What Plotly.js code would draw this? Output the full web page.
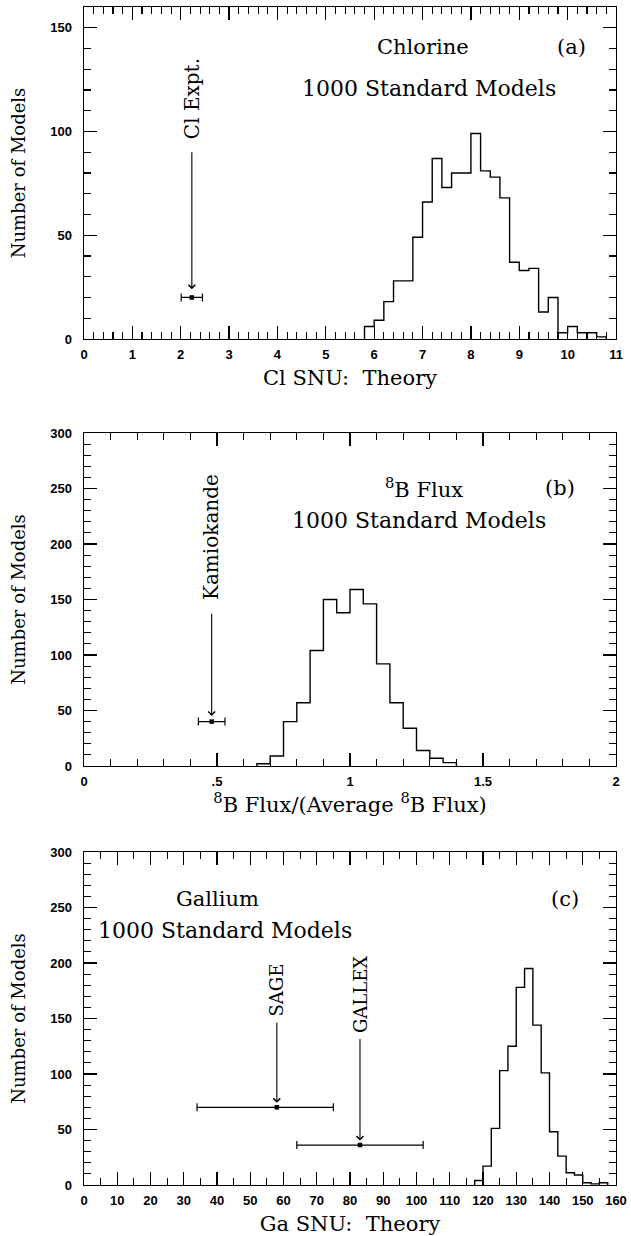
<!DOCTYPE html>
<html><head><meta charset="utf-8">
<script src="https://cdn.plot.ly/plotly-3.0.1.min.js"></script>
<style>
html,body{margin:0;padding:0;background:#fff;}
#chart{width:631px;height:1236px;}
</style></head><body><div id="chart"></div>
<script>
// ---- Panel (a): Chlorine ----
const clBinLeft = [5.8,6.0,6.2,6.4,6.6,6.8,7.0,7.2,7.4,7.6,7.8,8.0,8.2,8.4,8.6,8.8,9.0,9.2,9.4,9.6,9.8,10.0,10.2,10.4,10.6];
const clCounts  = [6,9,18,28,28,49,66,87,73,80,80,99,81,78,68,37,33,34,13,20,3,6,3,3,1];
const clExptX = [2.23], clExptY = [20], clExptErr = [0.22];
const clTicks = [0,1,2,3,4,5,6,7,8,9,10,11];

// ---- Panel (b): 8B flux ----
const bBinLeft = [0.65,0.70,0.75,0.80,0.85,0.90,0.95,1.00,1.05,1.10,1.15,1.20,1.25,1.30,1.35];
const bCounts  = [2,9,40,57,104,150,138,159,146,92,57,34,14,7,3];
const kamX = [0.48], kamY = [40], kamErr = [0.05];
const bTickVals = [0,0.5,1,1.5,2];
const bTickText = ['0','.5','1','1.5','2'];

// ---- Panel (c): Gallium ----
const gaBinLeft = [117.5,120,122.5,125,127.5,130,132.5,135,137.5,140,142.5,145,147.5,150,152.5,155];
const gaCounts  = [4,17,51,103,125,178,195,144,101,48,26,11,9,2,1,2];
const sageX = [58], sageY = [70], sagePlus = [17], sageMinus = [24];
const gallexX = [83], gallexY = [36], gallexErr = [19];

function stepLine(left, counts){
  const w = left[1]-left[0];
  const xs = [left[0]], ys = [0];
  for(let i=0;i<left.length;i++){ xs.push(left[i]); ys.push(counts[i]); }
  xs.push(left[left.length-1]+w); ys.push(0);
  return {xs, ys};
}

const K = '#000';
const serif = 'DejaVu Serif, Liberation Serif, serif';
const tickFont = {family:'Liberation Sans, Arial, sans-serif', size:13, weight:'bold', color:K};

const ha = stepLine(clBinLeft, clCounts);
const hb = stepLine(bBinLeft, bCounts);
const hc = stepLine(gaBinLeft, gaCounts);

const lineStyle = {shape:'hv', color:K, width:1.4};
const ebar = {type:'data', color:K, thickness:1.2, width:4};
const mk = {size:4.5, color:K, symbol:'square'};
const traces = [
  {x:ha.xs, y:ha.ys, mode:'lines', line:lineStyle, xaxis:'x', yaxis:'y', hoverinfo:'skip'},
  {x:clExptX, y:clExptY, mode:'markers', marker:mk, xaxis:'x', yaxis:'y',
   error_x:Object.assign({array:clExptErr}, ebar)},
  {x:hb.xs, y:hb.ys, mode:'lines', line:lineStyle, xaxis:'x2', yaxis:'y2', hoverinfo:'skip'},
  {x:kamX, y:kamY, mode:'markers', marker:mk, xaxis:'x2', yaxis:'y2',
   error_x:Object.assign({array:kamErr}, ebar)},
  {x:hc.xs, y:hc.ys, mode:'lines', line:lineStyle, xaxis:'x3', yaxis:'y3', hoverinfo:'skip'},
  {x:sageX, y:sageY, mode:'markers', marker:mk, xaxis:'x3', yaxis:'y3',
   error_x:Object.assign({symmetric:false, array:sagePlus, arrayminus:sageMinus}, ebar)},
  {x:gallexX, y:gallexY, mode:'markers', marker:mk, xaxis:'x3', yaxis:'y3',
   error_x:Object.assign({array:gallexErr}, ebar)}
];

const common = {showline:true, linecolor:K, linewidth:1.4, mirror:'ticks', ticks:'inside',
  tickcolor:K, showgrid:false, zeroline:false};

function xax(extra, anchor, title, minorStep){
  return Object.assign({}, common, {
    anchor:anchor, domain:[0,1], ticklen:13, tickwidth:1.2,
    tickfont:tickFont, ticklabelstandoff:3,
    minor:{dtick:minorStep, tick0:0, ticks:'inside', ticklen:7, tickwidth:1.1, tickcolor:K, showgrid:false},
    title:{text:title, font:{family:serif, size:21, color:K}, standoff:9}
  }, extra);
}
function yax(extra, anchor, domain){
  return Object.assign({}, common, {
    anchor:anchor, domain:domain, ticklen:13, tickwidth:1.2,
    tickfont:tickFont, ticklabelstandoff:8,
    minor:{dtick:10, tick0:0, ticks:'inside', ticklen:7, tickwidth:1.1, tickcolor:K, showgrid:false},
    title:{text:'Number of Models', font:{family:serif, size:18, color:K}, standoff:20}
  }, extra);
}

function pointer(xr, yr, x, yTip, yText, text, size, pad){
  return {xref:xr, yref:yr, axref:xr, ayref:yr, x:x, y:yTip, ax:x, ay:yText, text:text,
          textangle:-90, font:{family:serif, size:size, color:K}, borderpad:pad,
          showarrow:true, arrowhead:4, arrowsize:1.2, arrowwidth:1.1, arrowcolor:K, standoff:0};
}
function label(xr, yr, x, y, text, size){
  return {xref:xr, yref:yr, x:x, y:y, text:text, showarrow:false,
          font:{family:serif, size:size||21, color:K}, xanchor:'center', yanchor:'middle'};
}

const layout = {
  width:631, height:1236, paper_bgcolor:'#fff', plot_bgcolor:'#fff', showlegend:false,
  margin:{l:84, r:15, t:7, b:51},
  xaxis: xax({range:[0,11], tickvals:clTicks}, 'y', 'Cl SNU:&nbsp;&nbsp;Theory', 0.2),
  yaxis: yax({range:[0,160], dtick:50}, 'x', [0.7182,1]),
  xaxis2: xax({range:[0,2], tickvals:bTickVals, ticktext:bTickText}, 'y2',
             '<sup>8</sup>B Flux/(Average <sup>8</sup>B Flux)', 0.1),
  yaxis2: yax({range:[0,300], dtick:50}, 'x2', [0.3557,0.6384]),
  xaxis3: xax({range:[0,160], dtick:10}, 'y3', 'Ga SNU:&nbsp;&nbsp;Theory', 5),
  yaxis3: yax({range:[0,300], dtick:50}, 'x3', [0,0.2827]),
  annotations: [
    label('x','y',7.0,140.5,'Chlorine'),
    label('x','y',10.08,140.5,'(a)'),
    label('x','y',7.14,120.5,'1000 Standard Models',22),
    pointer('x','y',2.23,24,116,'Cl Expt.',20,13),
    label('x2','y2',1.28,250,'<sup>8</sup>B Flux'),
    label('x2','y2',1.79,250,'(b)'),
    label('x2','y2',1.26,221,'1000 Standard Models',22),
    pointer('x2','y2',0.48,45,206,'Kamiokande',20,13),
    label('x3','y3',40,258,'Gallium'),
    label('x3','y3',144.8,258,'(c)'),
    label('x3','y3',42.3,229,'1000 Standard Models',22),
    pointer('x3','y3',58,74,176,'SAGE',18,6),
    pointer('x3','y3',83,40,172,'GALLEX',18,6)
  ]
};

Plotly.newPlot('chart', traces, layout, {staticPlot:true, displayModeBar:false});
</script></body></html>
